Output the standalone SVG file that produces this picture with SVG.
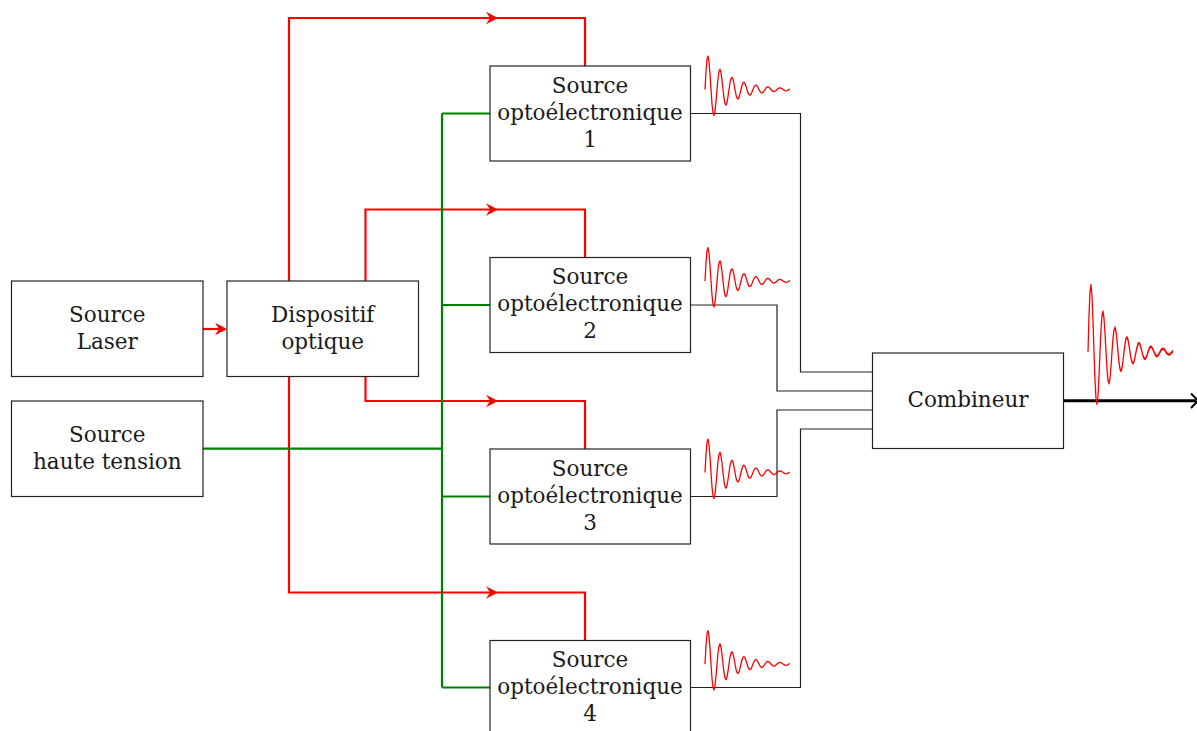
<svg xmlns="http://www.w3.org/2000/svg" xmlns:xlink="http://www.w3.org/1999/xlink" width="1197" height="731" viewBox="0 0 1197 731">
<style>
.box{fill:#fff;stroke:#222;stroke-width:1.2}
.t{font-family:"DejaVu Serif","Liberation Serif",serif;font-size:21.5px;fill:#1a1a1a;text-anchor:middle}
.red{fill:none;stroke:#ff0000;stroke-width:2.2;stroke-linejoin:miter}
.green{fill:none;stroke:#008000;stroke-width:2.2}
.blk{fill:none;stroke:#222;stroke-width:1.2}
.wave{fill:none;stroke:#ff0000;stroke-width:1.3;stroke-linejoin:round}
</style>
<defs>
<path id="ah" d="M0,0 L-12,-6.3 L-8,0 L-12,6.3 Z" fill="#ff0000"/>
<polyline id="wv" points="0,0 1,-18.2 2,-30.3 3,-33.5 4,-27.8 5,-15.4 6,0 7,14.2 8,23.5 9,26 10,21.6 11,12 12,0 13,-11 14,-18.3 15,-20.2 16,-16.8 17,-9.3 18,0 19,8.6 20,14.2 21,15.7 22,13.1 23,7.2 24,0 25,-6.7 26,-11 27,-12.2 28,-10.2 29,-5.6 30,0 31,5.2 32,8.6 33,9.5 34,7.9 35,4.4 36,0 37,-4 38,-6.7 39,-7.4 40,-6.1 41,-3.4 42,0 43,3.1 44,5.2 45,5.7 46,4.8 47,2.6 48,0 49,-2.4 50,-4 51,-4.5 52,-3.7 53,-2 54,0 55,1.9 56,3.1 57,3.5 58,2.9 59,1.6 60,0 61,-1.5 62,-2.4 63,-2.7 64,-2.2 65,-1.2 66,0 67,1.1 68,1.9 69,2.1 70,1.7 71,1 72,0 73,-0.9 74,-1.5 75,-1.6 76,-1.4 77,-0.8 78,0 79,0.7 80,1.1 81,1.3 82,1.1 83,0.6 84,0 85,-0.5"/>
</defs>
<rect width="1197" height="731" fill="#fff"/>

<g id="connectors">
  <!-- red optical paths -->
  <path class="red" d="M203,329 H221"/>
  <use xlink:href="#ah" x="227" y="329"/>
  <path class="red" d="M289,281 V18 H585 V66"/>
  <path class="red" d="M365.5,281 V209.5 H585 V257.5"/>
  <path class="red" d="M365.5,376.5 V401 H585 V449"/>
  <path class="red" d="M289,376.5 V592.5 H585 V640.5"/>
  <use xlink:href="#ah" x="498" y="18"/>
  <use xlink:href="#ah" x="498" y="209.5"/>
  <use xlink:href="#ah" x="498" y="401"/>
  <use xlink:href="#ah" x="498" y="592.5"/>
  <!-- green HV -->
  <path class="green" d="M203,448.7 H442 M442,113.5 V687.5 M442,113.5 H490 M442,305 H490 M442,496.5 H490 M442,687.5 H490"/>
  <!-- black to combiner -->
  <path class="blk" d="M690.5,113.5 H800.5 V372 H872.5"/>
  <path class="blk" d="M690.5,305 H777 V391 H872.5"/>
  <path class="blk" d="M690.5,496.5 H777 V410 H872.5"/>
  <path class="blk" d="M690.5,687.5 H800.5 V429 H872.5"/>
  <!-- output -->
  <path d="M1063.5,400.7 H1196" fill="none" stroke="#000" stroke-width="3"/>
  <path d="M1191,393.5 L1198,400.7 L1191,408" fill="none" stroke="#000" stroke-width="2"/>
</g>

<g id="waves">
  <use xlink:href="#wv" class="wave" transform="translate(705,89.5)"/>
  <use xlink:href="#wv" class="wave" transform="translate(705,281)"/>
  <use xlink:href="#wv" class="wave" transform="translate(705,472.5)"/>
  <use xlink:href="#wv" class="wave" transform="translate(705,664)"/>
  <g transform="translate(1088,352) scale(1,2)"><use xlink:href="#wv" class="wave" style="vector-effect:non-scaling-stroke"/></g>
</g>

<g id="laser">
  <rect class="box" x="11.5" y="281" width="191.5" height="95.5"/>
  <text class="t" x="107.3" y="321.7">Source</text>
  <text class="t" x="107.3" y="348.5">Laser</text>
</g>
<g id="hv">
  <rect class="box" x="11.5" y="401" width="191.5" height="95.5"/>
  <text class="t" x="107.3" y="441.7">Source</text>
  <text class="t" x="107.3" y="468.5">haute tension</text>
</g>
<g id="dispositif">
  <rect class="box" x="227" y="281" width="191.5" height="95.5"/>
  <text class="t" x="322.7" y="321.7">Dispositif</text>
  <text class="t" x="322.7" y="348.5">optique</text>
</g>
<g id="opto1">
  <rect class="box" x="490" y="66" width="200.5" height="95"/>
  <text class="t" x="590" y="92.5">Source</text>
  <text class="t" x="590" y="119.5">optoélectronique</text>
  <text class="t" x="590" y="146.5">1</text>
</g>
<g id="opto2">
  <rect class="box" x="490" y="257.5" width="200.5" height="95"/>
  <text class="t" x="590" y="284">Source</text>
  <text class="t" x="590" y="311">optoélectronique</text>
  <text class="t" x="590" y="338">2</text>
</g>
<g id="opto3">
  <rect class="box" x="490" y="449" width="200.5" height="95"/>
  <text class="t" x="590" y="475.5">Source</text>
  <text class="t" x="590" y="502.5">optoélectronique</text>
  <text class="t" x="590" y="529.5">3</text>
</g>
<g id="opto4">
  <rect class="box" x="490" y="640.5" width="200.5" height="95"/>
  <text class="t" x="590" y="667">Source</text>
  <text class="t" x="590" y="694">optoélectronique</text>
  <text class="t" x="590" y="721">4</text>
</g>
<g id="combineur">
  <rect class="box" x="872.5" y="353" width="191" height="95.5"/>
  <text class="t" x="968" y="407">Combineur</text>
</g>
</svg>
